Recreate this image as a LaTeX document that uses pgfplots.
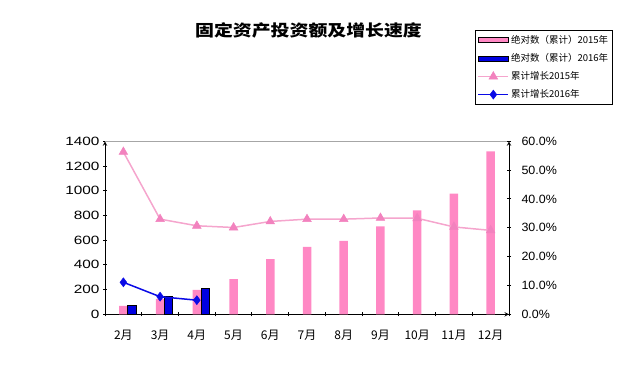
\documentclass[border=0pt]{standalone}
\usepackage{pgfplots}
\pgfplotsset{compat=1.18}
\usepackage{fontspec}
\setmainfont{Liberation Sans}
\newfontfamily\wideL[FakeStretch=1.28]{Liberation Sans}
\newfontfamily\wideR[FakeStretch=1.04]{Liberation Sans}
\newfontfamily\cjk{Noto Sans CJK SC}
\newfontfamily\cjkt[FakeStretch=1.18]{Noto Sans CJK SC}
\definecolor{barpink}{RGB}{255,136,196}
\definecolor{linepink}{RGB}{245,165,205}
\definecolor{markpink}{RGB}{242,130,190}
\definecolor{bluebar}{RGB}{0,0,225}
\definecolor{blueline}{RGB}{10,10,230}
\pgfplotsset{
  barleg/.style={legend image code/.code={\draw[##1] (0pt,-2.5pt) rectangle (30pt,2.5pt);}},
  lineleg/.style={legend image code/.code={\draw[mark repeat=2,mark phase=2,##1] plot coordinates {(0pt,0pt) (15pt,0pt) (30pt,0pt)};}},
  common/.style={
    at={(105pt,72.7pt)}, anchor=south west, scale only axis,
    width=404pt, height=173pt,
    xmin=-0.5, xmax=10.5,
    tick align=inside, major tick length=4pt,
    tick style={black, line width=1pt},
    axis line style={-, black, line width=1pt},
    /pgf/number format/assume math mode=true,
    /pgf/number format/1000 sep={},
    scaled y ticks=false,
    clip=false,
  }
}
\begin{document}
\begin{tikzpicture}
\useasboundingbox (0,0) rectangle (636pt,387pt);
\node[font=\cjkt\bfseries\fontsize{16}{16}\selectfont] at (308.5pt,357pt) {固定资产投资额及增长速度};
\begin{axis}[common,
  ymin=0, ymax=1400,
  axis x line=bottom, axis y line=left,
  xtick={-0.5,0.5,...,10.5}, x tick label as interval,
  xticklabels={2月,3月,4月,5月,6月,7月,8月,9月,10月,11月,12月},
  xticklabel style={font=\cjk\fontsize{12}{12}\selectfont, yshift=-10pt},
  ytick={0,200,...,1400},
  yticklabel style={font=\wideL\fontsize{12}{12}\selectfont},
]
\addplot[ybar, bar width=8.5pt, bar shift=0pt, fill=barpink, draw=none] coordinates {
 (0,68) (1,125) (2,197) (3,284) (4,446) (5,546) (6,595) (7,711) (8,840) (9,976) (10,1319)};
\addplot[ybar, bar width=8.5pt, bar shift=8.5pt, fill=bluebar, draw=black, line width=0.8pt] coordinates {
 (0,72) (1,145) (2,211)};
\draw[gray!70, line width=0.8pt] (rel axis cs:0,1) -- (rel axis cs:1,1);
\end{axis}
\begin{axis}[common,
  ymin=0, ymax=60,
  axis x line=none, axis y line=right,
  ytick={0,10,...,60},
  yticklabels={0.0\%,10.0\%,20.0\%,30.0\%,40.0\%,50.0\%,60.0\%},
  yticklabel style={font=\wideR\fontsize{12}{12}\selectfont, xshift=7pt},
  legend style={at={(0.916,1.643)}, anchor=north west, draw=black, line width=1pt,
    font=\cjk\fontsize{9.5}{9.5}\selectfont, nodes={inner sep=2pt}, row sep=4.5pt,
    inner xsep=2pt, inner ysep=3pt},
  legend cell align=left,
]
\addlegendimage{barleg, fill=barpink, draw=none}
\addlegendentry{绝对数（累计）2015年}
\addlegendimage{barleg, fill=bluebar, draw=black, line width=0.8pt}
\addlegendentry{绝对数（累计）2016年}
\addplot[lineleg, color=linepink, line width=1.5pt, mark=triangle*, mark size=5pt,
  mark options={fill=markpink, draw=markpink, line width=0.5pt}] coordinates {
 (0,56.3) (1,33.0) (2,30.7) (3,30.1) (4,32.2) (5,33.0) (6,33.0) (7,33.4) (8,33.3) (9,30.3) (10,29.1)};
\addlegendentry{累计增长2015年}
\addplot[lineleg, color=blueline, line width=1.5pt, mark=diamond*, mark size=4.5pt,
  mark options={fill=blueline, draw=blueline, line width=0.5pt}] coordinates {
 (0,11.1) (1,6.1) (2,4.9)};
\addlegendentry{累计增长2016年}
\end{axis}
\end{tikzpicture}
\end{document}
